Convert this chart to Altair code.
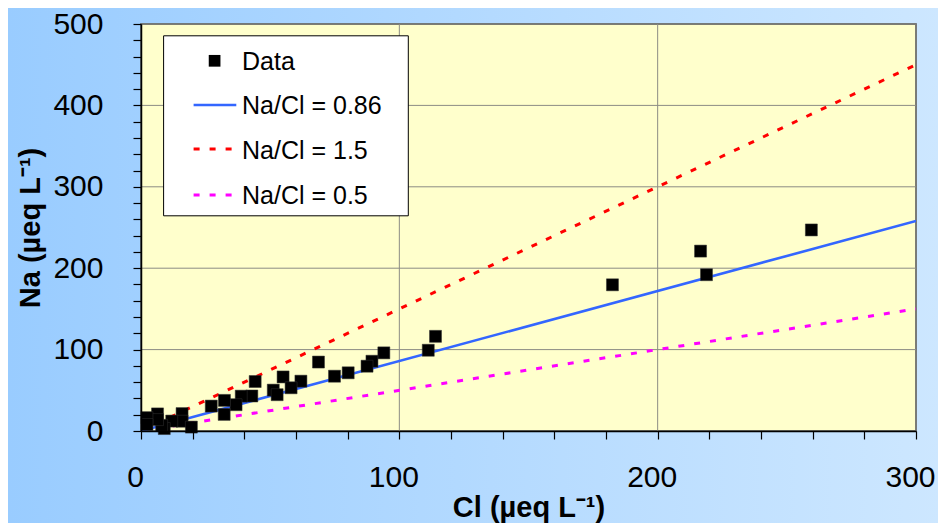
import altair as alt
import pandas as pd

# ---- data ----
cl_values = [259.5, 216.6, 218.9, 182.5, 114.0, 111.2, 94.0, 89.4, 87.5, 80.2,
             74.9, 68.7, 61.9, 55.0, 58.1, 51.2, 52.7, 44.2, 42.9, 38.8,
             36.8, 32.3, 32.2, 27.2, 15.9, 15.9, 19.5, 11.9, 9.0, 8.0,
             6.4, 6.4, 2.3, 2.3]
na_values = [247.0, 221.0, 192.0, 179.6, 116.3, 99.2, 96.0, 85.7, 79.6, 71.5,
             67.3, 84.7, 61.2, 66.4, 53.1, 50.2, 44.6, 60.8, 43.0, 42.8,
             32.3, 37.6, 20.4, 30.6, 21.4, 12.0, 4.8, 12.2, 3.0, 7.0,
             21.0, 14.0, 16.4, 8.0]

line_labels = ["Na/Cl = 0.86", "Na/Cl = 1.5", "Na/Cl = 0.5"]
line_cl = [0, 300]
line_na_086 = [0, 258]
line_na_15 = [0, 450]
line_na_05 = [0, 150]

x_ticks = list(range(0, 301, 20))
y_ticks = list(range(0, 501, 20))
x_grid = [100, 200, 300]
y_grid = [100, 200, 300, 400, 500]

# ---- layout ----
W, H = 775, 407
PAD = {"left": 133, "top": 16, "right": 22, "bottom": 92}
FONT = "Liberation Sans"

xscale = alt.Scale(domain=[0, 300], nice=False, zero=True)
yscale = alt.Scale(domain=[0, 500], nice=False, zero=True)

xaxis = alt.Axis(
    values=x_ticks, labelExpr="datum.value % 100 === 0 ? datum.label : ''",
    grid=False, tickSize=8, tickColor="black", tickWidth=1.2,
    domainColor="black", domainWidth=1.5, labelFont=FONT, labelFontSize=30,
    labelColor="black", labelPadding=23, labelFlush=False, labelOverlap=False,
    labelOffset=-6, format="d",
    title="Cl (µeq L⁻¹)", titleFont=FONT, titleFontSize=29, titleFontWeight="bold",
    titleColor="black", titleY=85, titleBaseline="alphabetic", zindex=1,
)
yaxis = alt.Axis(
    values=y_ticks, labelExpr="datum.value % 100 === 0 ? datum.label : ''",
    grid=False, tickSize=8, tickColor="black", tickWidth=1.2,
    domainColor="black", domainWidth=1.5, labelFont=FONT, labelFontSize=30,
    labelColor="black", labelPadding=30, labelFlush=False, labelOverlap=False,
    format="d",
    title="Na (µeq L⁻¹)", titleFont=FONT, titleFontSize=29, titleFontWeight="bold",
    titleColor="black", titleX=-102, titleY=H / 2, titleAngle=270,
    titleBaseline="alphabetic", titleAlign="center", zindex=1,
)

x_enc = alt.X("cl:Q", scale=xscale, axis=xaxis)
y_enc = alt.Y("na:Q", scale=yscale, axis=yaxis)

one = pd.DataFrame({"k": [0]})

bg = alt.Chart(one).mark_rect(
    fill=alt.LinearGradient(
        gradient="linear",
        stops=[alt.GradientStop(color="#99CCFF", offset=0),
               alt.GradientStop(color="#CDE7FF", offset=1)],
        x1=0, x2=1, y1=0, y2=0,
    )
).encode(x=alt.value(-PAD["left"]), x2=alt.value(W + PAD["right"] + 2),
         y=alt.value(-PAD["top"]), y2=alt.value(H + PAD["bottom"] + 2))

plot_bg = alt.Chart(one).mark_rect(
    fill="#FFFFCC", stroke="#404040", strokeWidth=1.5
).encode(x=alt.value(0), x2=alt.value(W), y=alt.value(0), y2=alt.value(H))

vgrid = alt.Chart(pd.DataFrame({"cl": x_grid})).mark_rule(
    color="#8C8C84", strokeWidth=1
).encode(x=x_enc)
hgrid = alt.Chart(pd.DataFrame({"na": y_grid})).mark_rule(
    color="#8C8C84", strokeWidth=1
).encode(y=y_enc)

def ratio_line(na_ends, color, dash, width):
    df = pd.DataFrame({"cl": line_cl, "na": na_ends})
    kw = dict(color=color, strokeWidth=width, clip=True)
    if dash:
        kw["strokeDash"] = dash
    return alt.Chart(df).mark_line(**kw).encode(x=x_enc, y=y_enc)

blue = ratio_line(line_na_086, "#3366FF", None, 2.6)
red = ratio_line(line_na_15, "#FF0000", [6, 10], 3)
pink = ratio_line(line_na_05, "#FF00FF", [6, 10], 3)

pts = alt.Chart(pd.DataFrame({"cl": cl_values, "na": na_values})).mark_square(
    size=144, color="black", opacity=1, stroke="#333333", strokeWidth=0.5
).encode(x=x_enc, y=y_enc)

# ---- legend (manual) ----
leg_box = alt.Chart(one).mark_rect(
    fill="white", stroke="black", strokeWidth=1
).encode(x=alt.value(22.6), x2=alt.value(267.3), y=alt.value(11.8), y2=alt.value(191.8))
leg_sq = alt.Chart(one).mark_square(size=137, color="black", opacity=1).encode(
    x=alt.value(73.6), y=alt.value(36.8))
leg_blue = alt.Chart(one).mark_rule(color="#3366FF", strokeWidth=2.6).encode(
    x=alt.value(52.6), x2=alt.value(95.3), y=alt.value(81))
leg_red = alt.Chart(one).mark_rule(color="#FF0000", strokeWidth=3, strokeDash=[6, 10]).encode(
    x=alt.value(52.6), x2=alt.value(95.3), y=alt.value(125))
leg_pink = alt.Chart(one).mark_rule(color="#FF00FF", strokeWidth=3, strokeDash=[6, 10]).encode(
    x=alt.value(52.6), x2=alt.value(95.3), y=alt.value(171))

def leg_text(txt, y):
    return alt.Chart(one).mark_text(
        align="left", baseline="middle", font=FONT, fontSize=25, color="black"
    ).encode(x=alt.value(101), y=alt.value(y), text=alt.value(txt))

texts = [leg_text("Data", 38), leg_text(line_labels[0], 82),
         leg_text(line_labels[1], 127), leg_text(line_labels[2], 172)]

chart = alt.layer(
    bg, plot_bg, vgrid, hgrid, pink, red, blue, pts,
    leg_box, leg_sq, leg_blue, leg_red, leg_pink, *texts
).properties(
    width=W, height=H, padding=PAD,
    autosize=alt.AutoSizeParams(type="none"),
).configure(background="#A8D4FF").configure_view(stroke=None, fill=None)

chart.save("out.html", embed_options={"renderer": "svg", "actions": False})
